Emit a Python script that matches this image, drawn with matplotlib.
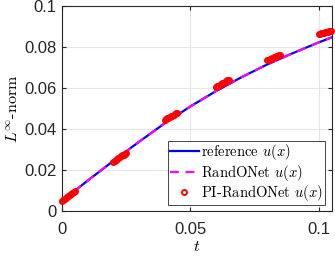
import numpy as np
import matplotlib.pyplot as plt

# reference / RandONet solution
t_ref = [0.0, 0.01, 0.02, 0.03, 0.04, 0.05, 0.06, 0.07, 0.08, 0.09, 0.1, 0.105]
u_ref = [0.0050, 0.0149, 0.0245, 0.0338, 0.0428, 0.0510, 0.0585, 0.0653,
         0.0715, 0.0770, 0.0822, 0.0846]
u_rand = [0.0050, 0.0149, 0.0245, 0.0338, 0.0428, 0.0510, 0.0585, 0.0653,
          0.0715, 0.0770, 0.0822, 0.0846]

# PI-RandONet samples, six short windows
t_pi = [0.0000, 0.0005, 0.0010, 0.0015, 0.0020, 0.0025, 0.0030, 0.0035, 0.0040, 0.0045, 0.0050,
        0.0200, 0.0205, 0.0210, 0.0215, 0.0220, 0.0225, 0.0230, 0.0235, 0.0240, 0.0245, 0.0250,
        0.0400, 0.0405, 0.0410, 0.0415, 0.0420, 0.0425, 0.0430, 0.0435, 0.0440, 0.0445, 0.0450,
        0.0600, 0.0605, 0.0610, 0.0615, 0.0620, 0.0625, 0.0630, 0.0635, 0.0640, 0.0645, 0.0650,
        0.0800, 0.0805, 0.0810, 0.0815, 0.0820, 0.0825, 0.0830, 0.0835, 0.0840, 0.0845, 0.0850,
        0.1000, 0.1005, 0.1010, 0.1015, 0.1020, 0.1025, 0.1030, 0.1035, 0.1040, 0.1045, 0.1050]
u_pi = [0.0052, 0.0057, 0.0061, 0.0066, 0.0070, 0.0075, 0.0079, 0.0084, 0.0088, 0.0093, 0.0097,
        0.0240, 0.0245, 0.0249, 0.0254, 0.0258, 0.0263, 0.0267, 0.0272, 0.0276, 0.0281, 0.0285,
        0.0445, 0.0449, 0.0452, 0.0456, 0.0459, 0.0463, 0.0466, 0.0470, 0.0473, 0.0477, 0.0480,
        0.0605, 0.0609, 0.0612, 0.0616, 0.0619, 0.0623, 0.0626, 0.0630, 0.0633, 0.0637, 0.0640,
        0.0735, 0.0738, 0.0741, 0.0743, 0.0746, 0.0749, 0.0752, 0.0755, 0.0757, 0.0760, 0.0763,
        0.0862, 0.0864, 0.0866, 0.0867, 0.0869, 0.0871, 0.0873, 0.0875, 0.0876, 0.0878, 0.0880]

x_ticks = [0, 0.05, 0.1]
x_labels = ['0', '0.05', '0.1']
y_ticks = [0, 0.02, 0.04, 0.06, 0.08, 0.1]
y_labels = ['0', '0.02', '0.04', '0.06', '0.08', '0.1']

plt.rcParams['mathtext.fontset'] = 'cm'
plt.rcParams['font.family'] = ['Liberation Sans', 'DejaVu Sans']

fig = plt.figure(figsize=(3.35, 2.57), dpi=100)
ax = fig.add_axes([0.185, 0.178, 0.805, 0.799])

ax.plot(t_ref, u_ref, '-', color='blue', lw=1.6, label='reference $u(x)$')
ax.plot(t_ref, u_rand, '--', color='magenta', lw=1.6, dashes=(4, 3), label='RandONet $u(x)$')
ax.plot(t_pi, u_pi, 'o', color='red', mfc='none', ms=3.6, mew=1.4,
        label='PI-RandONet $u(x)$', clip_on=False, zorder=3)

ax.set_xlim(0, 0.1051)
ax.set_ylim(0, 0.1)
ax.set_xticks(x_ticks)
ax.set_xticklabels(x_labels)
ax.set_yticks(y_ticks)
ax.set_yticklabels(y_labels)
ax.tick_params(direction='in', length=3, labelsize=12, colors='0.15',
               top=True, right=True)
ax.tick_params(axis='x', pad=8)
ax.tick_params(axis='y', pad=4)
ax.grid(True, color='0.9', lw=0.8)
for s in ax.spines.values():
    s.set_color('0.15')
    s.set_linewidth(0.8)

ax.set_xlabel('$t$', fontsize=11.5, labelpad=1)
ax.set_ylabel(r'$L^{\infty}$-norm', fontsize=11.5, family='cmr10', labelpad=2)

leg = ax.legend(loc='lower right', frameon=True, fancybox=False,
                edgecolor='0.15', framealpha=1, handlelength=2.0,
                borderpad=0.12, labelspacing=0.02, handletextpad=0.15,
                borderaxespad=0.45, prop={'family': 'cmr10', 'size': 10.5})
leg.get_frame().set_linewidth(0.6)

fig.savefig('out.png', dpi=100)
